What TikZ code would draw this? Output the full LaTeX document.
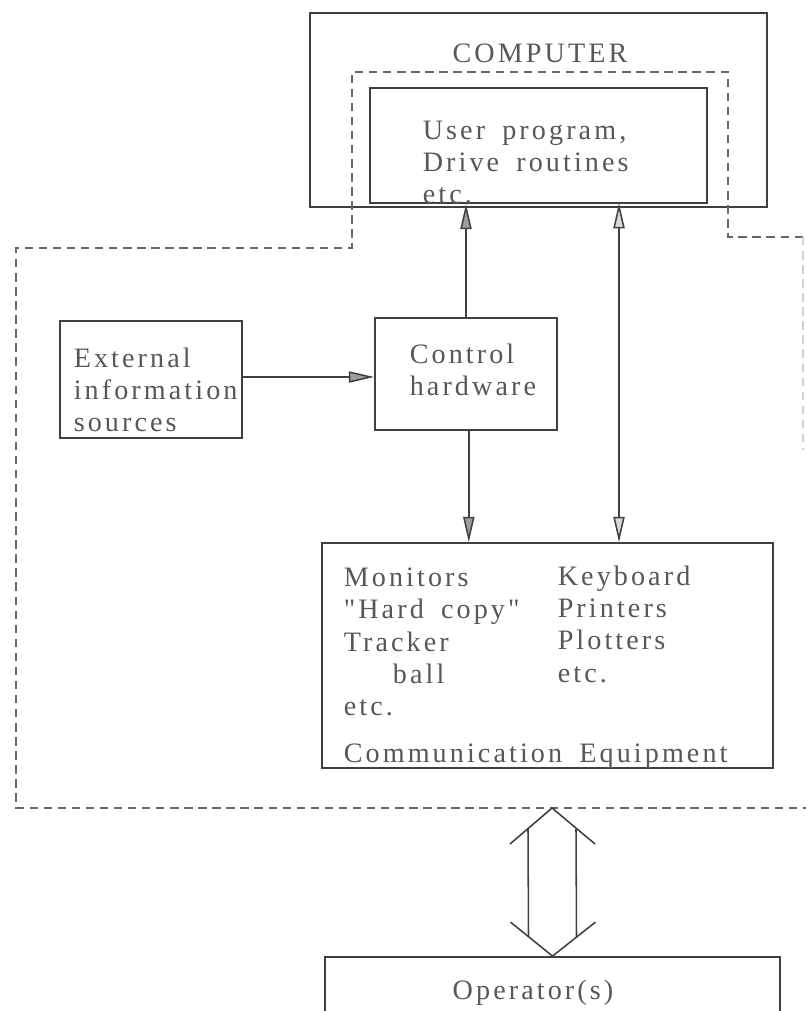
\documentclass[tikz,border=0pt]{standalone}
\usepackage{fontspec}
\setmainfont{Liberation Serif}[LetterSpace=11,WordSpace=1.7,Ligatures=TeXOff]
\usepackage{xcolor}
\usepackage{tikz}
\usetikzlibrary{positioning}
\usetikzlibrary{fit}
\usetikzlibrary{calc}
\usetikzlibrary{arrows.meta}
\definecolor{ink}{rgb}{0.25,0.25,0.25}
\definecolor{typed}{rgb}{0.34,0.34,0.34}

\begin{document}
\begin{tikzpicture}[x=0.025cm,y=-0.025cm,
	line width=1.1pt,
  box/.style={draw=ink,line width=1.3pt,inner sep=0pt},
  txt/.style={text=typed,inner sep=0pt,align=left,anchor=north west},
  bound/.style={draw=gray!80!black,line width=1.1pt,dash pattern=on 6pt off 4pt},
  flow/.style={draw=ink,-{Triangle[length=18pt,width=8pt,fill=gray!75]}},
  both/.style={draw=ink,{Triangle[length=18pt,width=8pt,fill=gray!30]}-{Triangle[length=18pt,width=8pt,fill=gray!30]}},
	font=\fontsize{20}{23}\selectfont]
  \useasboundingbox (0,0) rectangle (806,1011);

  % boxes
  \node[box,fit={(310,13) (767,207)}] (comp) {};
  \node[box,fit={(370,88) (707,203)}] (prog) {};
  \node[box,fit={(60,321) (242,438)}] (ext) {};
  \node[box,fit={(375,318) (557,430)}] (ctrl) {};
  \node[box,fit={(322,543) (773,768)}] (comm) {};
  \node[box,fit={(325,957) (780,1016)}] (op) {};

  % texts
  \node[text=typed,inner sep=0pt] (compT) at (540,53) {COMPUTER};
  \node[txt] (progT) at (422,120) {User program,\\Drive routines\\etc.};
  \node[txt] (extT) at (73,347) {External\\information\\sources};
  \node[txt] (ctrlT) at (409,343) {Control\\hardware};
  \node[txt] (devL) at (343,567) {Monitors\\"Hard copy"\\Tracker\\\hspace*{35pt}ball\\etc.};
  \node[txt] (devR) at (557,565) {Keyboard\\Printers\\Plotters\\etc.};
  \node[txt] (commT) at (343,743) {Communication Equipment};
  \node[text=typed,inner sep=0pt] (opT) at (533,993) {Operator(s)};

  % dashed boundary
  \draw[bound] (803,237) -- (728,237) -- (728,72) -- (352,72) -- (352,248)
    -- (16,248) -- (16,808) -- (806,808);
  \draw[bound,draw=gray!35] (803,237) -- (803,450);

  % connectors
  \draw[flow] (ext.east |- 0,377) -- (ctrl.west |- 0,377);
  \draw[flow] (ctrl.north) -- (ctrl.north |- prog.south);
  \draw[flow] ([xshift=2pt]ctrl.south) -- ([xshift=2pt]ctrl.south |- comm.north);
  \coordinate (kb) at (619,203);
  \draw[both] (kb) -- (kb |- comm.north);

  % link to the operator
  \coordinate (link) at (552,808);
  \draw[ink] ($(link)+(-42,36)$) -- (link) -- ($(link)+(43,36)$);
  \draw[ink] ($(op.north)+(-42,-34)$) -- (op.north) -- ($(op.north)+(43,-34)$);
  \draw[ink] ($(link)+(-24,21)$) -- ($(op.north)+(-24,-19)$);
  \draw[ink] ($(link)+(24,21)$) -- ($(op.north)+(24,-19)$);

\end{tikzpicture}
\end{document}
